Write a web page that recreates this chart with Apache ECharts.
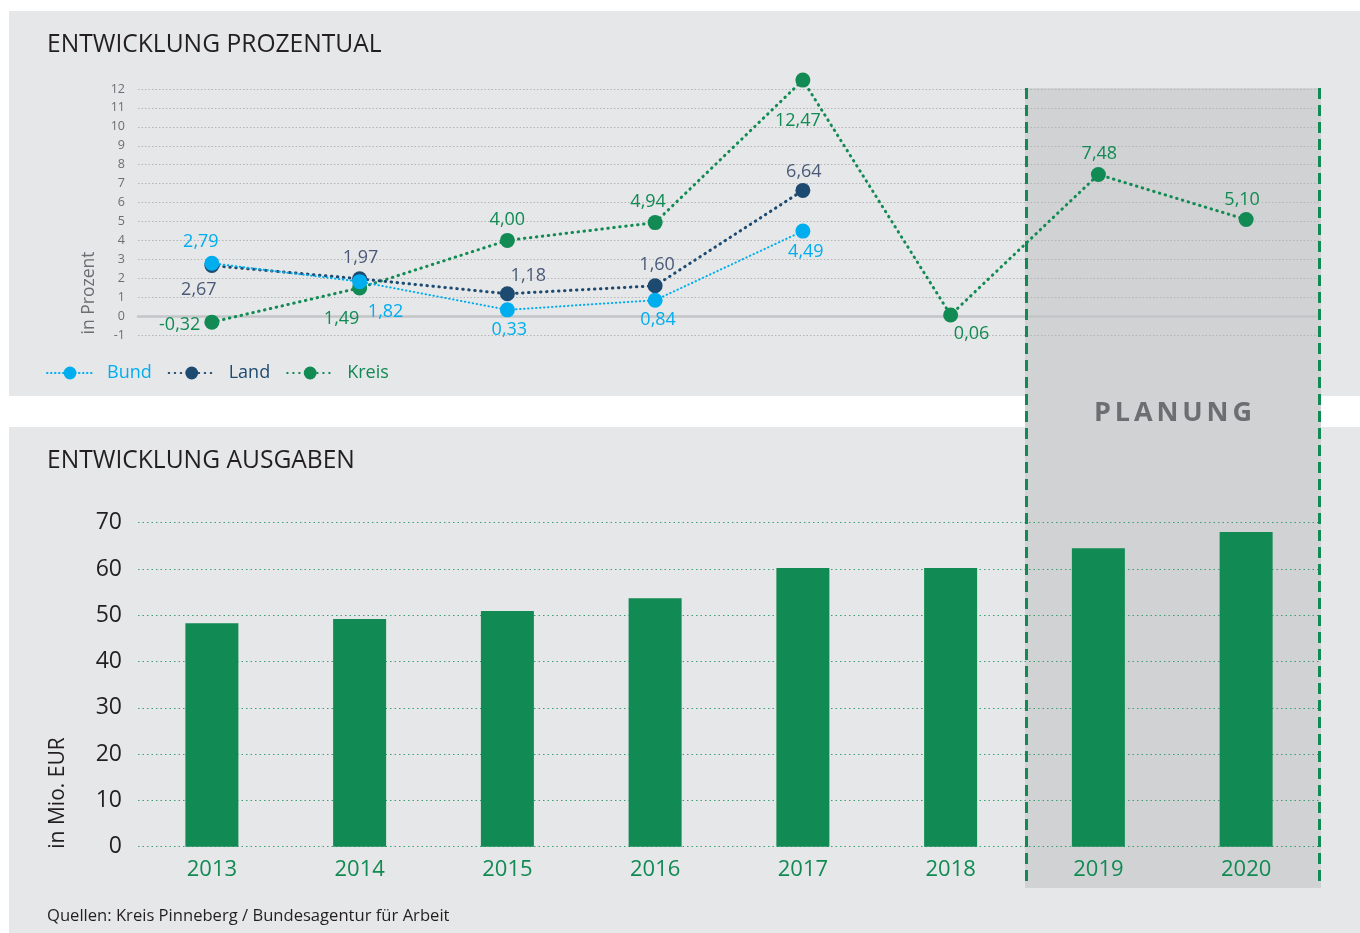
<!DOCTYPE html>
<html>
<head>
<meta charset="utf-8">
<title>Entwicklung</title>
<script src="https://cdn.jsdelivr.net/npm/echarts@6/dist/echarts.min.js"></script>
<style>
    html, body { margin: 0; padding: 0; background: #fff; }
    #chart { width: 1360px; height: 933px; }
</style>
</head>
<body>
<div id="chart"></div>
<script>
// Data
const years = ['2013', '2014', '2015', '2016', '2017', '2018', '2019', '2020'];
const bund = [2.79, 1.82, 0.33, 0.84, 4.49, null, null, null];
const land = [2.67, 1.97, 1.18, 1.60, 6.64, null, null, null];
const kreis = [-0.32, 1.49, 4.00, 4.94, 12.47, 0.06, 7.48, 5.10];
const ausgaben = [48.3, 49.2, 50.9, 53.7, 60.2, 60.2, 64.5, 68.0];
const percentMin = -1, percentMax = 12;
const euroMin = 0, euroMax = 70;

// Colours and fonts
const FONT = '"Open Sans", sans-serif';
const GREEN = '#118a53';
const BLUE = '#00aeef';
const NAVY = '#1d4a70';
const GREY = '#6d6e71';
const DARK = '#231f20';

// Label placement per point: [position, offset]
const bundLabels = [['top', [-11, -1]], ['bottom', [26, 10]], ['bottom', [2, 0]], ['bottom', [3, -1]], ['bottom', [3, 0]]];
const landLabels = [['bottom', [-13, 4]], ['top', [1, 0]], ['top', [21, 3]], ['top', [2, 0]], ['top', [1, 2]]];
const kreisLabels = [['left', [0, 3]], ['bottom', [-18, 10]], ['top', [0, 0]], ['top', [-7, 0]],
    ['bottom', [-5, 20]], ['bottom', [21, -2]], ['top', [1, 0]], ['top', [-4, 1]]];

const fmt = p => p.value.toFixed(2).replace('.', ',');

function withLabels(values, places) {
    return values.map((v, i) => {
        if (v == null) return null;
        const p = places[i];
        return { value: v, label: { position: p[0], offset: p[1] } };
    });
}

function lineSeries(name, values, places, color, labelColor, width, dash) {
    return {
        name: name,
        type: 'line',
        xAxisIndex: 0,
        yAxisIndex: 0,
        data: withLabels(values, places),
        symbol: 'circle',
        symbolSize: 15,
        clip: false,
        connectNulls: false,
        itemStyle: { color: color },
        lineStyle: { color: color, width: width, type: dash, cap: 'round' },
        label: {
            show: true,
            formatter: fmt,
            distance: 4,
            color: labelColor,
            fontSize: 18,
            fontFamily: FONT
        },
        emphasis: { disabled: true }
    };
}

// PLANUNG letters, spaced out
const measure = document.createElement('canvas').getContext('2d');
const planFont = 'bold 27px ' + FONT;
measure.font = planFont;
const planLetters = 'PLANUNG'.split('');
const planWidths = planLetters.map(ch => measure.measureText(ch).width);
const planTotal = 158;
const planGap = (planTotal - planWidths.reduce((a, b) => a + b, 0)) / (planLetters.length - 1);
let planX = 1094;
const planung = planLetters.map((ch, i) => {
    const el = {
        type: 'text',
        x: planX,
        y: 413,
        z: 6,
        style: { text: ch, fill: GREY, font: planFont, textAlign: 'left', textVerticalAlign: 'middle' }
    };
    planX += planWidths[i] + planGap;
    return el;
});

const chart = echarts.init(document.getElementById('chart'));

chart.setOption({
    animation: false,
    backgroundColor: '#ffffff',
    textStyle: { fontFamily: FONT },
    graphic: [
        { type: 'rect', z: -10, shape: { x: 9, y: 11, width: 1351, height: 385 }, style: { fill: '#e6e7e8' } },
        { type: 'rect', z: -10, shape: { x: 9, y: 427, width: 1351, height: 506 }, style: { fill: '#e6e7e8' } },
        { type: 'rect', z: -5, shape: { x: 1025, y: 88, width: 296, height: 800 }, style: { fill: '#d1d2d4' } },
        { type: 'line', z: 5, shape: { x1: 1026.5, y1: 88, x2: 1026.5, y2: 887 }, style: { stroke: GREEN, lineWidth: 3, lineDash: [11, 6] } },
        { type: 'line', z: 5, shape: { x1: 1319.5, y1: 88, x2: 1319.5, y2: 887 }, style: { stroke: GREEN, lineWidth: 3, lineDash: [11, 6] } },
        { type: 'text', x: 47, y: 45, style: { text: 'ENTWICKLUNG PROZENTUAL', fill: DARK, font: '24.6px ' + FONT, textVerticalAlign: 'middle' } },
        { type: 'text', x: 47, y: 461, style: { text: 'ENTWICKLUNG AUSGABEN', fill: DARK, font: '24.6px ' + FONT, textVerticalAlign: 'middle' } },
        { type: 'text', x: 47, y: 916, style: { text: 'Quellen: Kreis Pinneberg / Bundesagentur für Arbeit', fill: DARK, font: '16.6px ' + FONT, textVerticalAlign: 'middle' } },
        { type: 'text', x: 89, y: 293, rotation: Math.PI / 2, style: { text: 'in Prozent', fill: GREY, font: '17.5px ' + FONT, textAlign: 'center', textVerticalAlign: 'middle' } },
        { type: 'text', x: 58, y: 793, rotation: Math.PI / 2, style: { text: 'in Mio. EUR', fill: DARK, font: '21px ' + FONT, textAlign: 'center', textVerticalAlign: 'middle' } }
    ].concat(planung),
    legend: {
        left: 41,
        top: 359,
        itemWidth: 46,
        itemHeight: 16,
        itemGap: 16,
        selectedMode: false,
        textStyle: { fontSize: 18, fontFamily: FONT, padding: [0, 0, 0, 9] },
        data: [
            { name: 'Bund', textStyle: { color: BLUE } },
            { name: 'Land', textStyle: { color: NAVY } },
            { name: 'Kreis', textStyle: { color: GREEN } }
        ]
    },
    grid: [
        { left: 138, right: 40, top: 89, height: 246 },
        { left: 138, right: 40, top: 522.7, height: 324 }
    ],
    xAxis: [
        {
            type: 'category',
            gridIndex: 0,
            data: years,
            axisLabel: { show: false },
            axisTick: { show: false },
            axisLine: { show: true, onZero: true, lineStyle: { color: '#c4c5c7', width: 2.5 } }
        },
        {
            type: 'category',
            gridIndex: 1,
            data: years,
            axisTick: { show: false },
            axisLine: { show: false },
            axisLabel: { color: GREEN, fontSize: 22, fontFamily: FONT, margin: 12 }
        }
    ],
    yAxis: [
        {
            type: 'value',
            gridIndex: 0,
            min: percentMin,
            max: percentMax,
            interval: 1,
            axisLine: { show: false },
            axisTick: { show: false },
            axisLabel: { color: GREY, fontSize: 12.5, fontFamily: FONT, margin: 13 },
            splitLine: { lineStyle: { color: '#b3b5b7', width: 1, type: [1.5, 2] } }
        },
        {
            type: 'value',
            gridIndex: 1,
            min: euroMin,
            max: euroMax,
            interval: 10,
            axisLine: { show: false },
            axisTick: { show: false },
            axisLabel: { color: DARK, fontSize: 23, fontFamily: FONT, margin: 16 },
            splitLine: { lineStyle: { color: '#3c9f70', width: 1, type: [1.5, 3] } }
        }
    ],
    series: [
        lineSeries('Kreis', kreis, kreisLabels, GREEN, GREEN, 3, [0.5, 5.5]),
        lineSeries('Land', land, landLabels, NAVY, '#4a5a78', 3, [0.5, 5.5]),
        lineSeries('Bund', bund, bundLabels, BLUE, BLUE, 2, [0.5, 3.5]),
        {
            name: 'Ausgaben',
            type: 'bar',
            xAxisIndex: 1,
            yAxisIndex: 1,
            data: ausgaben,
            barWidth: 53,
            itemStyle: { color: GREEN },
            emphasis: { disabled: true }
        }
    ]
});
</script>
</body>
</html>
